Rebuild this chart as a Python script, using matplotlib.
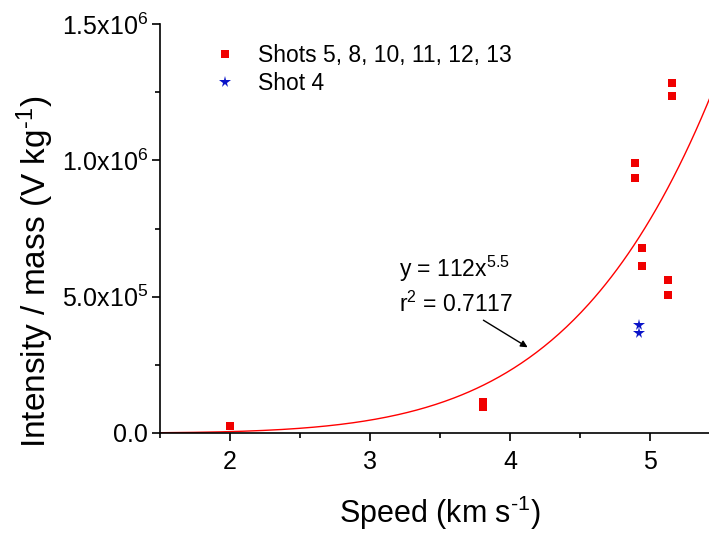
import numpy as np
import matplotlib
matplotlib.use("Agg")
import matplotlib.pyplot as plt
from matplotlib.ticker import MultipleLocator, FixedLocator

plt.rcParams['font.family'] = ['Liberation Sans', 'DejaVu Sans']
plt.rcParams['mathtext.fontset'] = 'custom'
plt.rcParams['mathtext.rm'] = 'Liberation Sans'
plt.rcParams['mathtext.it'] = 'Liberation Sans'

# data
speed_shots = [2.00, 3.81, 3.81, 4.89, 4.89, 4.94, 4.94, 5.13, 5.13, 5.155, 5.155]
intens_shots = [0.026e6, 0.114e6, 0.096e6, 0.990e6, 0.936e6, 0.679e6, 0.611e6,
                0.5625e6, 0.507e6, 1.284e6, 1.236e6]
speed_shot4 = [4.92, 4.92]
intens_shot4 = [0.397e6, 0.367e6]

# power-law fit shown on the chart
fit_a = 112
fit_b = 5.5
fit_r2 = 0.7117

ytick_vals = [0, 0.5e6, 1.0e6, 1.5e6]
ytick_labels = ['0.0', r'5.0x10$^{5}$', r'1.0x10$^{6}$', r'1.5x10$^{6}$']

fig = plt.figure(figsize=(7.09, 5.36), dpi=100)
ax = fig.add_axes([160/709, 103/536, 560/709, 409/536])

xs = np.linspace(1.5, 5.5, 300)
ax.plot(xs, fit_a * xs**fit_b, color='red', lw=1.0, zorder=2)
ax.plot(speed_shots, intens_shots, 's', color='#f00000', ms=6, mew=0,
        label='Shots 5, 8, 10, 11, 12, 13', zorder=3)
ax.plot(speed_shot4, intens_shot4, '*', color='#0a14c8', ms=8.5, mew=0,
        label='Shot 4', zorder=3)

ax.set_xlim(1.5, 5.5)
ax.set_ylim(0, 1.5e6)
ax.xaxis.set_major_locator(FixedLocator([2, 3, 4, 5]))
ax.xaxis.set_minor_locator(MultipleLocator(0.5))
ax.yaxis.set_major_locator(FixedLocator(ytick_vals))
ax.yaxis.set_minor_locator(MultipleLocator(0.25e6))
ax.set_yticklabels(ytick_labels)

ax.spines['top'].set_visible(False)
ax.spines['right'].set_visible(False)
for s in ('left', 'bottom'):
    ax.spines[s].set_linewidth(1.2)
ax.tick_params(which='major', direction='out', length=5.5, width=1.2,
               labelsize=18)
ax.tick_params(axis='x', which='major', pad=7)
ax.tick_params(axis='y', which='major', pad=3)
ax.tick_params(which='minor', direction='out', length=3.5, width=1.2)

ax.set_xlabel(r'Speed (km s$^{\text{-}1}$)', fontsize=22, labelpad=14)
ax.set_ylabel(r'Intensity / mass (V kg$^{\text{-}1}$)', fontsize=24)
ax.yaxis.set_label_coords(-0.185, 0.394)

ax.legend(loc='upper left', bbox_to_anchor=(0.08, 0.98), frameon=False,
          fontsize=16.5, handletextpad=1.0, labelspacing=0.25,
          handlelength=0.8, borderaxespad=0.1)

ax.text(3.207, 0.574e6, r'y = %dx$^{%.1f}$' % (fit_a, fit_b), fontsize=16.5,
        va='baseline')
ax.text(3.207, 0.445e6, r'r$^{2}$ = %.4f' % fit_r2, fontsize=16.5,
        va='baseline')
ax.annotate('', xy=(4.143, 0.309e6), xytext=(3.793, 0.419e6),
            arrowprops=dict(arrowstyle='-|>', color='black', lw=1.0,
                            mutation_scale=10))

fig.savefig('out.png', dpi=100)
